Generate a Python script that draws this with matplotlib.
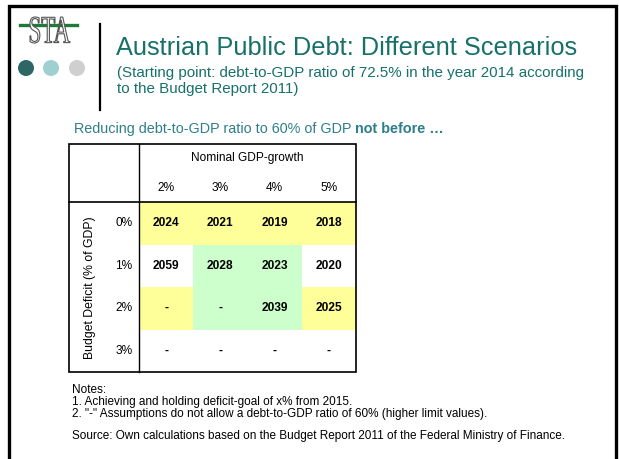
import matplotlib
matplotlib.use("Agg")
import matplotlib.pyplot as plt
from matplotlib.patches import Rectangle, Circle, PathPatch
from matplotlib.textpath import TextPath
from matplotlib.font_manager import FontProperties
from matplotlib.transforms import Affine2D

plt.rcParams['font.family'] = ['Liberation Sans', 'DejaVu Sans']

# ---- data ----
title = "Austrian Public Debt: Different Scenarios"
subtitle = ["(Starting point: debt-to-GDP ratio of 72.5% in the year 2014 according",
            "to the Budget Report 2011)"]
lead_plain = "Reducing debt-to-GDP ratio to 60% of GDP "
lead_bold = "not before \u2026"
col_header = "Nominal GDP-growth"
growth = ["2%", "3%", "4%", "5%"]
row_header = "Budget Deficit (% of GDP)"
deficits = ["0%", "1%", "2%", "3%"]
years = [["2024", "2021", "2019", "2018"],
         ["2059", "2028", "2023", "2020"],
         ["-", "-", "2039", "2025"],
         ["-", "-", "-", "-"]]
highlight = [["Y", "Y", "Y", "Y"],
             ["W", "G", "G", "W"],
             ["Y", "G", "G", "Y"],
             ["W", "W", "W", "W"]]
notes = ["Notes:",
         "1. Achieving and holding deficit-goal of x% from 2015.",
         "2. \"-\" Assumptions do not allow a debt-to-GDP ratio of 60% (higher limit values)."]
source = "Source: Own calculations based on the Budget Report 2011 of the Federal Ministry of Finance."
logo_text = "STA"

fill_colors = {"Y": "#ffff99", "G": "#ccffcc", "W": "white"}
teal = "#17706a"
lead_col = "#2f7f8a"

W, H = 619, 459
fig = plt.figure(figsize=(W / 100, H / 100), dpi=100)
ax = fig.add_axes([0, 0, 1, 1])
ax.set_xlim(0, W)
ax.set_ylim(H, 0)
ax.axis('off')

# outer frame (open at bottom)
ax.plot([9, 9, 616, 616], [H + 5, 6, 6, H + 5], color='black', lw=2.4,
        solid_joinstyle='miter')

# logo
ax.plot([20, 77], [25, 25], color='#1f7a3a', lw=2.4, zorder=1)
tp = TextPath((0, 0), logo_text, size=10, prop=FontProperties(family='Liberation Serif'))
ext = tp.get_extents()
sx = 40 / ext.width
sy = 26 / ext.height
tr = Affine2D().translate(-ext.x0, -ext.y0).scale(sx, -sy).translate(30, 43)
ax.add_patch(PathPatch(tr.transform_path(tp), facecolor='white', edgecolor='#555555',
                       lw=0.8, zorder=2))
for cx, c in zip([26, 51, 77], ["#2e6665", "#9fd0d0", "#cfcfcf"]):
    ax.add_patch(Circle((cx, 68), 8, color=c, lw=0))

# vertical separator
ax.plot([100, 100], [24, 110], color='black', lw=1.6)

# title
ax.text(116, 55, title, fontsize=18.3, color=teal, ha='left', va='baseline')
ax.text(117, 77, subtitle[0], fontsize=10.9, color=teal, ha='left', va='baseline')
ax.text(117, 93, subtitle[1], fontsize=10.9, color=teal, ha='left', va='baseline')

# lead line
t = ax.text(74, 133, lead_plain, fontsize=10.4, color=lead_col, ha='left', va='baseline')
fig.canvas.draw()
bb = t.get_window_extent()
xd = ax.transData.inverted().transform((bb.x1, 0))[0]
ax.text(xd, 133, lead_bold, fontsize=10.4, color=lead_col, ha='left', va='baseline',
        weight='bold')

# table geometry
tx0, tx1 = 69, 356
ty0, ty1 = 144, 372
cx0 = 139
hy = 202
ncol = len(growth)
nrow = len(deficits)
cw = (tx1 - cx0) / ncol
rh = (ty1 - hy) / nrow
fs = 8.6

for i in range(nrow):
    for j in range(ncol):
        c = fill_colors[highlight[i][j]]
        ax.add_patch(Rectangle((cx0 + j * cw, hy + i * rh), cw, rh, facecolor=c,
                               edgecolor='none', zorder=1))
        ax.text(cx0 + (j + 0.5) * cw, hy + (i + 0.5) * rh, years[i][j], fontsize=fs,
                weight='bold', ha='center', va='center', zorder=3)
    ax.text(124, hy + (i + 0.5) * rh, deficits[i], fontsize=fs, ha='center',
            va='center', zorder=3)

for j in range(ncol):
    ax.text(cx0 + (j + 0.5) * cw, 188, growth[j], fontsize=fs, ha='center',
            va='center', zorder=3)
ax.text((cx0 + tx1) / 2, 158, col_header, fontsize=fs, ha='center', va='center')
ax.text(90, (hy + ty1) / 2 + 1, row_header, fontsize=8.8, ha='center', va='center',
        rotation=90)

ax.add_patch(Rectangle((tx0, ty0), tx1 - tx0, ty1 - ty0, facecolor='none',
                       edgecolor='black', lw=1.2, zorder=4))
ax.plot([cx0, cx0], [ty0, ty1], color='black', lw=1.0, zorder=4)
ax.plot([tx0, tx1], [hy, hy], color='black', lw=1.2, zorder=4)

# notes
for k, line in enumerate(notes):
    ax.text(72, 393 + k * 12, line, fontsize=8.5, ha='left', va='baseline')
ax.text(72, 439, source, fontsize=8.5, ha='left', va='baseline')

fig.savefig("out.png", dpi=100)
